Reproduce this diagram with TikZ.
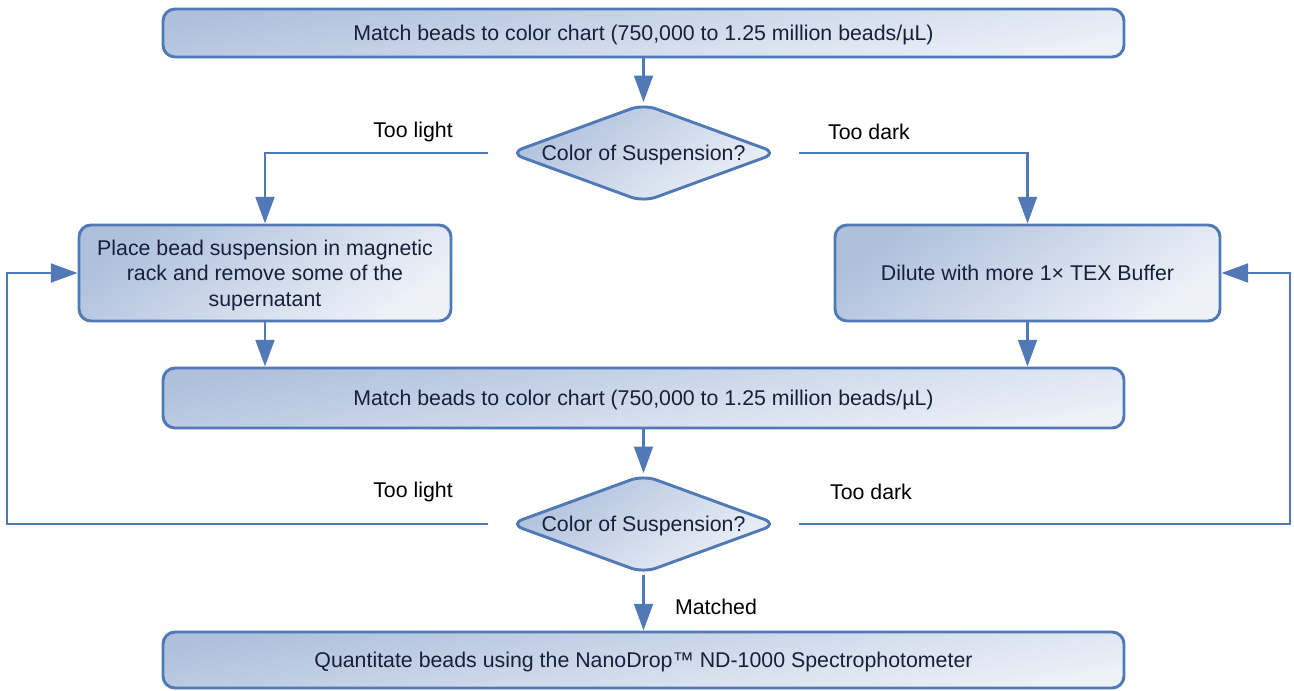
\documentclass[tikz,border=0pt]{standalone}
\usepackage{fontspec}
\setmainfont{Liberation Sans}
\usetikzlibrary{shapes.geometric,arrows.meta}
\definecolor{edge}{RGB}{80,121,182}
\definecolor{fillA}{RGB}{174,192,220}
\definecolor{fillB}{RGB}{238,242,248}
\definecolor{txt}{RGB}{22,32,58}
\begin{document}
\begin{tikzpicture}[x=0.75pt,y=-0.75pt,
  base/.style={draw=edge,line width=2.2pt,top color=fillA,bottom color=fillB,font=\fontsize{16}{19.2}\selectfont,text=txt,align=center,inner sep=0pt,text depth=0pt},
  box/.style={base,rounded corners=9pt,shading angle=35},
  wide/.style={box,shading angle=10,minimum width=720.75pt},
  dec/.style={base,diamond,rounded corners=10pt,shading angle=35,minimum width=201pt,minimum height=74pt,aspect=2.716},
  lbl/.style={font=\fontsize{16}{19.2}\selectfont,text=black},
  conn/.style={draw=edge,line width=2.2pt},
  arr/.style={conn,-{Triangle[length=20pt,width=14pt]}}
]
\useasboundingbox (0,0) rectangle (1294,690);
\node[wide,minimum height=36pt] (top) at (643.5,33) {Match beads to color chart (750,000 to 1.25 million beads/µL)};
\node[dec] (d1) at (643.5,153) {Color of Suspension?};
\node[box,minimum width=279pt,minimum height=72pt] (pl) at (265,273) {Place bead suspension in magnetic\\rack and remove some of the\\supernatant};
\node[box,minimum width=288.75pt,minimum height=72pt] (dr) at (1027.5,273) {Dilute with more 1× TEX Buffer};
\node[wide,minimum height=45pt] (mid) at (643.5,398) {Match beads to color chart (750,000 to 1.25 million beads/µL)};
\node[dec] (d2) at (643.5,524) {Color of Suspension?};
\node[wide,minimum height=42pt] (bot) at (643.5,660) {Quantitate beads using the NanoDrop™ ND-1000 Spectrophotometer};

\node[lbl] (tl1) at (413,132) {Too light};
\node[lbl] (td1) at (869,132) {Too dark};
\node[lbl] (tl2) at (413,492) {Too light};
\node[lbl] (td2) at (871,492) {Too dark};
\node[lbl] (mt) at (716,607) {Matched};

\coordinate (d1l) at (488,153);
\coordinate (d1r) at (799,153);
\coordinate (d2l) at (488,524);
\coordinate (d2r) at (799,524);
\coordinate (lc) at (7,524);
\coordinate (rc) at (1290,524);

\draw[arr] (top.south) -- (d1.north);
\draw[arr] (d1l) -| (pl.north);
\draw[arr] (d1r) -| (dr.north);
\draw[arr] (pl.south) -- (pl.south |- mid.north);
\draw[arr] (dr.south) -- (dr.south |- mid.north);
\draw[arr] (mid.south) -- (d2.north);
\draw[arr] (d2l) -- (lc) |- (pl.west);
\draw[arr] (d2r) -- (rc) |- (dr.east);
\draw[arr] (d2.south) -- (bot.north);
\end{tikzpicture}
\end{document}
